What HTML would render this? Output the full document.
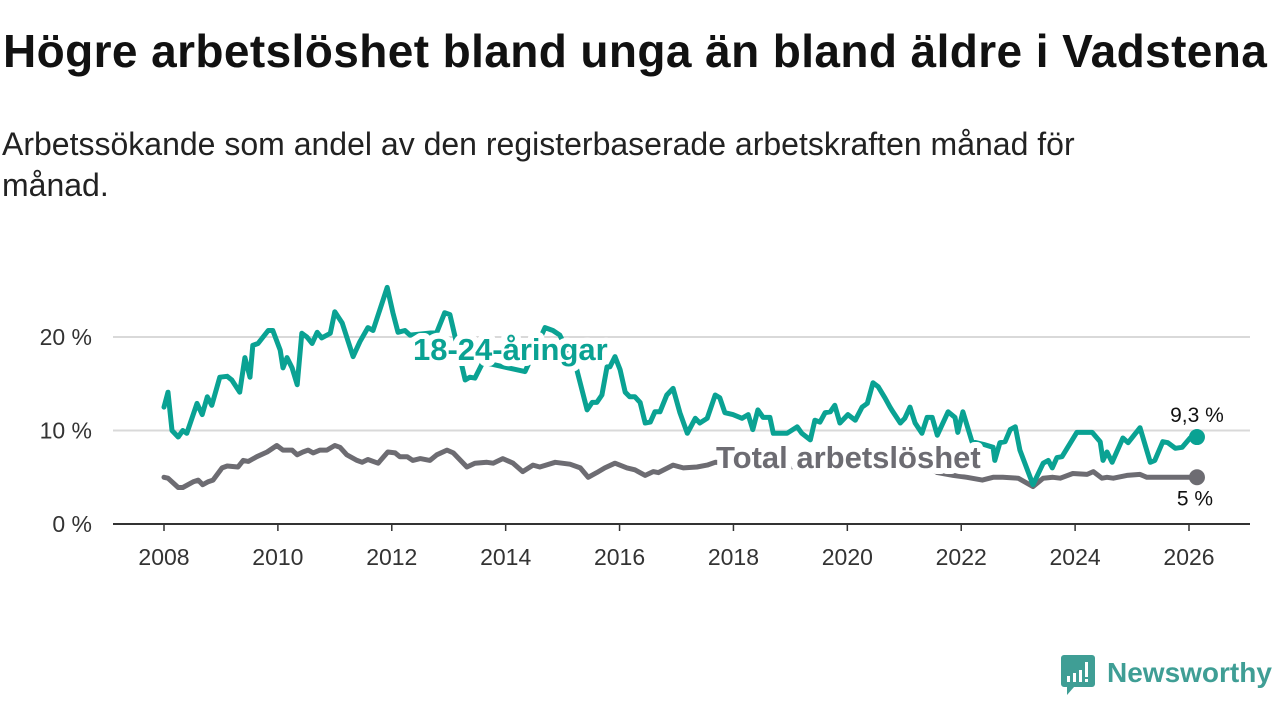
<!DOCTYPE html>
<html><head><meta charset="utf-8">
<style>
html,body{margin:0;padding:0;background:#fff;width:1280px;height:720px;overflow:hidden;font-family:"Liberation Sans","DejaVu Sans",sans-serif;}
#title{position:absolute;left:3px;top:24px;font-size:46px;font-weight:bold;color:#111;white-space:nowrap;letter-spacing:0.4px}
#subtitle{position:absolute;left:2px;top:124px;width:1165px;font-size:32px;line-height:41px;color:#222}
svg{position:absolute;left:0;top:0}
</style></head><body>
<div id="title">Högre arbetslöshet bland unga än bland äldre i Vadstena</div>
<div id="subtitle">Arbetssökande som andel av den registerbaserade arbetskraften månad för månad.</div>
<svg id="chart" width="1280" height="720"></svg>
<script>
const youthYears=[2008.0,2008.07,2008.14,2008.25,2008.33,2008.40,2008.58,2008.67,2008.76,2008.84,2008.98,2009.11,2009.19,2009.33,2009.42,2009.51,2009.56,2009.65,2009.83,2009.91,2010.04,2010.09,2010.16,2010.25,2010.34,2010.42,2010.51,2010.60,2010.69,2010.77,2010.92,2011.00,2011.13,2011.32,2011.44,2011.58,2011.67,2011.92,2012.02,2012.11,2012.23,2012.32,2012.79,2012.93,2013.02,2013.29,2013.37,2013.46,2013.60,2014.34,2014.69,2014.83,2014.95,2015.25,2015.43,2015.52,2015.60,2015.69,2015.78,2015.83,2015.92,2016.01,2016.10,2016.18,2016.27,2016.36,2016.45,2016.54,2016.62,2016.71,2016.83,2016.94,2017.06,2017.19,2017.33,2017.41,2017.54,2017.68,2017.76,2017.85,2017.99,2018.15,2018.26,2018.34,2018.43,2018.52,2018.64,2018.70,2018.94,2019.12,2019.20,2019.35,2019.43,2019.52,2019.61,2019.70,2019.78,2019.87,2020.01,2020.14,2020.26,2020.35,2020.45,2020.54,2020.66,2020.75,2020.80,2020.93,2021.01,2021.10,2021.19,2021.31,2021.40,2021.49,2021.58,2021.77,2021.89,2021.94,2022.03,2022.19,2022.40,2022.56,2022.59,2022.68,2022.77,2022.86,2022.95,2023.03,2023.26,2023.44,2023.53,2023.60,2023.68,2023.77,2024.03,2024.30,2024.44,2024.49,2024.56,2024.65,2024.84,2024.93,2025.14,2025.32,2025.40,2025.54,2025.63,2025.76,2025.88,2026.02,2026.14];
const youthValues=[12.5,14.1,10.0,9.3,10.0,9.7,12.9,11.7,13.6,12.7,15.7,15.8,15.4,14.1,17.8,15.7,19.1,19.3,20.7,20.7,18.6,16.7,17.8,16.7,14.9,20.4,20.0,19.3,20.5,19.9,20.4,22.7,21.5,17.9,19.5,21.0,20.7,25.3,22.6,20.5,20.7,20.2,20.5,22.6,22.4,15.4,15.7,15.6,17.3,16.3,21.0,20.7,20.2,16.5,12.2,13.0,13.0,13.8,16.8,16.8,17.9,16.5,14.1,13.6,13.6,13.0,10.8,10.9,12.0,12.0,13.8,14.5,11.9,9.7,11.3,10.8,11.3,13.8,13.5,11.9,11.7,11.3,11.7,10.1,12.2,11.4,11.4,9.7,9.7,10.4,9.7,9.0,11.1,10.9,11.9,12.0,12.7,10.8,11.7,11.1,12.5,12.9,15.1,14.7,13.5,12.5,12.0,10.8,11.3,12.5,10.8,9.7,11.4,11.4,9.5,12.0,11.4,9.8,12.0,8.8,8.5,8.2,6.8,8.7,8.8,10.1,10.4,7.9,4.2,6.5,6.8,6.0,7.1,7.2,9.8,9.8,8.8,6.8,7.7,6.6,9.2,8.7,10.3,6.6,6.8,8.8,8.7,8.1,8.2,9.2,9.3];
const totalYears=[2008.0,2008.07,2008.25,2008.33,2008.51,2008.60,2008.68,2008.77,2008.86,2009.02,2009.11,2009.30,2009.39,2009.48,2009.63,2009.81,2009.98,2010.09,2010.25,2010.34,2010.44,2010.53,2010.62,2010.74,2010.86,2011.00,2011.09,2011.21,2011.39,2011.48,2011.58,2011.76,2011.93,2012.06,2012.14,2012.27,2012.37,2012.50,2012.67,2012.79,2012.97,2013.08,2013.32,2013.46,2013.67,2013.78,2013.95,2014.13,2014.30,2014.48,2014.60,2014.87,2015.13,2015.31,2015.45,2015.60,2015.74,2015.92,2016.13,2016.27,2016.45,2016.59,2016.68,2016.94,2017.12,2017.36,2017.54,2017.68,2018.2,2018.8,2019.4,2020.0,2020.5,2021.0,2021.5,2021.58,2021.86,2022.10,2022.37,2022.56,2022.73,2023.0,2023.26,2023.44,2023.61,2023.74,2023.96,2024.21,2024.32,2024.47,2024.56,2024.67,2024.91,2025.14,2025.26,2025.49,2025.72,2025.97,2026.14];
const totalValues=[5.0,4.9,3.9,3.9,4.5,4.7,4.2,4.5,4.7,6.0,6.2,6.1,6.8,6.7,7.2,7.7,8.4,7.9,7.9,7.4,7.7,7.9,7.6,7.9,7.9,8.4,8.2,7.4,6.8,6.6,6.9,6.5,7.7,7.6,7.2,7.2,6.8,7.0,6.8,7.4,7.9,7.6,6.1,6.5,6.6,6.5,7.0,6.5,5.6,6.3,6.1,6.6,6.4,6.0,5.0,5.5,6.0,6.5,6.0,5.8,5.2,5.6,5.5,6.3,6.0,6.1,6.3,6.6,6.4,6.2,6.0,6.5,7.2,6.5,5.8,5.5,5.2,5.0,4.7,5.0,5.0,4.9,4.0,4.9,5.0,4.9,5.4,5.3,5.6,4.9,5.0,4.9,5.2,5.3,5.0,5.0,5.0,5.0,5.0];
const yTicks=[0,10,20];
const yTickLabels=["0 %","10 %","20 %"];
const xTicks=[2008,2010,2012,2014,2016,2018,2020,2022,2024,2026];
const lastYouthLabel="9,3 %";
const lastTotalLabel="5 %";

const NS="http://www.w3.org/2000/svg";
const svg=document.getElementById('chart');
const X=t=>164+(t-2008)*(1025/18);
const Y=v=>524-v*9.35;
function mk(tag,attrs,parent){const e=document.createElementNS(NS,tag);for(const k in attrs)e.setAttribute(k,attrs[k]);(parent||svg).appendChild(e);return e;}

yTicks.forEach((v,i)=>{
  if(v>0){const g=mk('line',{x1:113,x2:1250,y1:Y(v),y2:Y(v),stroke:'#d9d9d9','stroke-width':2});
  
  }
  const t=mk('text',{x:92,y:Y(v)+8,'text-anchor':'end','font-size':23,fill:'#333'});
  t.textContent=yTickLabels[i];
  
  
});
const ax=mk('line',{x1:113,x2:1250,y1:Y(0),y2:Y(0),stroke:'#333','stroke-width':2});


xTicks.forEach(yr=>{
  const tk=mk('line',{x1:X(yr),x2:X(yr),y1:Y(0),y2:Y(0)+7,stroke:'#333','stroke-width':1.5});
  
  
  const t=mk('text',{x:X(yr),y:565,'text-anchor':'middle','font-size':23,fill:'#333'});
  t.textContent=yr;
  
  
});
function line(xs,vs,color,name){
  const d=xs.map((t,i)=>(i?'L':'M')+X(t).toFixed(1)+','+Y(vs[i]).toFixed(1)).join('');
  const p=mk('path',{d:d,fill:'none',stroke:color,'stroke-width':5,'stroke-linejoin':'round','stroke-linecap':'round'});
  
  
}
line(totalYears,totalValues,'#6d6c72','total-line');
line(youthYears,youthValues,'#0aa293','youth-line');
function label(x,y,txt,color,name,size,anchor){
  const t=mk('text',{x:x,y:y,'font-size':size,'font-weight':'bold',fill:color,stroke:'#fff','stroke-width':12,'paint-order':'stroke','stroke-linejoin':'round','text-anchor':anchor||'start'});
  t.textContent=txt;
  
  
}
label(413,360,'18-24-åringar','#0aa293','youth-series-label',31);
label(716,468,'Total arbetslöshet','#6d6c72','total-series-label',31);
const lyi=youthValues.length-1, lti=totalValues.length-1;
const d1=mk('circle',{cx:X(youthYears[lyi]),cy:Y(youthValues[lyi]),r:8,fill:'#0aa293'});


const d2=mk('circle',{cx:X(totalYears[lti]),cy:Y(totalValues[lti]),r:8,fill:'#6d6c72'});


const e1=mk('text',{x:X(youthYears[lyi]),y:Y(youthValues[lyi])-15,'text-anchor':'middle','font-size':21,fill:'#111'});
e1.textContent=lastYouthLabel;


const e2=mk('text',{x:X(totalYears[lti])-2,y:Y(totalValues[lti])+28,'text-anchor':'middle','font-size':21,fill:'#111'});
e2.textContent=lastTotalLabel;



// logo
const lg=mk('g',{});


mk('path',{d:'M1064,655 h28 a3,3 0 0 1 3,3 v26 a3,3 0 0 1 -3,3 h-18 l-7,8 v-8 h-3 a3,3 0 0 1 -3,-3 v-26 a3,3 0 0 1 3,-3z',fill:'#3f9e95'},lg);
mk('rect',{x:1067,y:676,width:3,height:6,fill:'#fff'},lg);
mk('rect',{x:1073,y:673,width:3,height:9,fill:'#fff'},lg);
mk('rect',{x:1079,y:670,width:3,height:12,fill:'#fff'},lg);
mk('rect',{x:1085,y:662,width:3,height:15,fill:'#fff'},lg);
mk('rect',{x:1085,y:679,width:3,height:3,fill:'#fff'},lg);
const lt=mk('text',{x:1107,y:682,'font-size':28,'font-weight':'bold',fill:'#3f9e95'},lg);
lt.textContent='Newsworthy';
</script>
</body></html>
